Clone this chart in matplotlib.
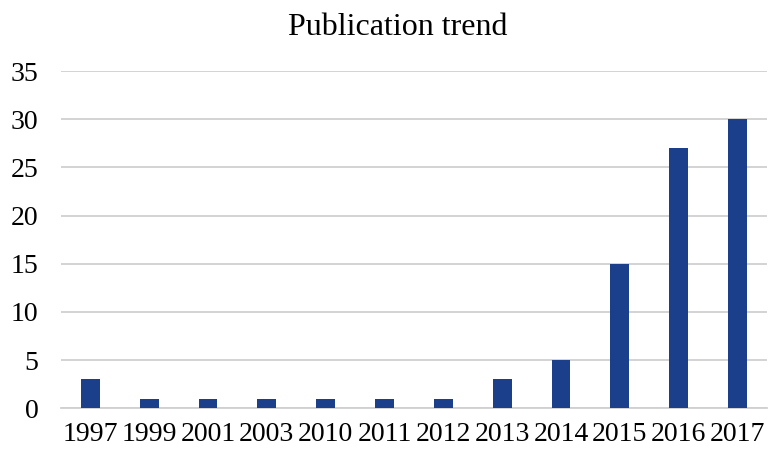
import numpy as np
import matplotlib.pyplot as plt

years = ["1997", "1999", "2001", "2003", "2010", "2011", "2012",
         "2013", "2014", "2015", "2016", "2017"]
counts = [3, 1, 1, 1, 1, 1, 1, 3, 5, 15, 27, 30]

plt.rcParams["font.family"] = ["Liberation Serif", "DejaVu Serif"]

fig = plt.figure(figsize=(7.7, 4.5), dpi=100)
ax = fig.add_axes([0.079, 0.093, 0.917, 0.749])

x = np.arange(len(years))
ax.bar(x, counts, width=0.32, color="#1b3f8a", zorder=3)

ax.set_xlim(-0.5, len(years) - 0.5)
ax.set_ylim(0, 35)
ax.set_yticks(range(0, 36, 5))
ax.set_xticks(x)
ax.set_xticklabels(years)
ax.tick_params(axis="both", length=0, labelsize=20)
ax.tick_params(axis="y", pad=16)
ax.tick_params(axis="x", pad=10)

ax.grid(axis="y", color="#d0d0d0", linewidth=1.3, zorder=0)
for side in ["top", "right", "left"]:
    ax.spines[side].set_visible(False)
ax.spines["bottom"].set_color("#d0d0d0")
ax.spines["bottom"].set_linewidth(1.3)

fig.suptitle("Publication trend", fontsize=23, x=0.517, y=0.972)

fig.savefig("out.png", dpi=100)
